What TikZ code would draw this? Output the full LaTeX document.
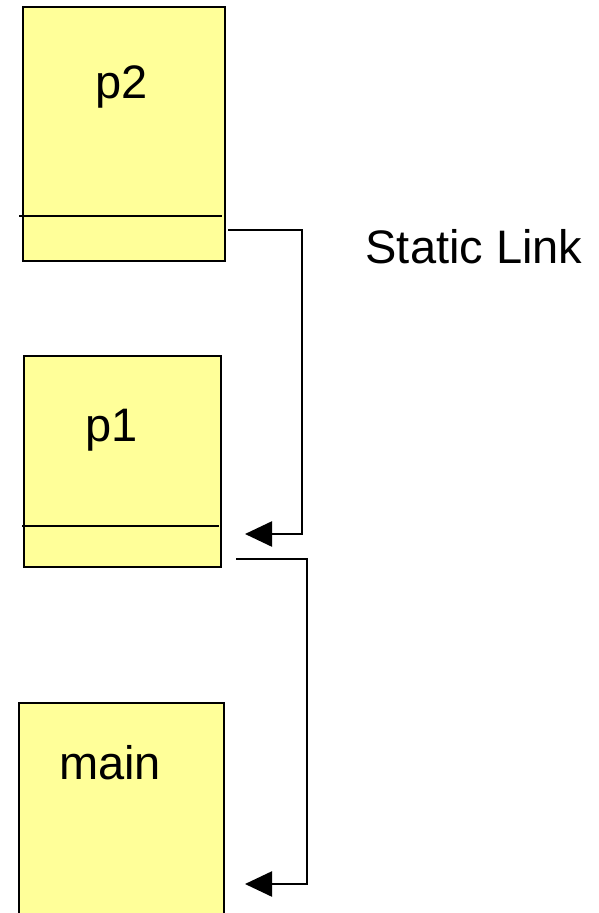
\documentclass[tikz,border=0pt]{standalone}
\usepackage{fontspec}
\setmainfont{Liberation Sans}
\usetikzlibrary{arrows.meta,positioning}

\definecolor{framefill}{HTML}{FFFF99}

\begin{document}
\begin{tikzpicture}[x=1pt,y=-1pt,>={Triangle[length=27pt,width=25pt]},
  frame/.style={draw=black,line width=2.6pt,fill=framefill,
    inner sep=0pt,outer sep=0pt},
  divider/.style={line width=1.6pt},
  link/.style={->,line width=2.4pt},
  lbl/.style={font=\fontsize{47}{56}\selectfont,inner sep=0pt}]
  \useasboundingbox (0,0) rectangle (598,913);
  \clip (0,0) rectangle (598,913);
  % frames on the stack
  \node[frame,minimum width=202pt,minimum height=254pt] (P2)   at (124,134)   {};
  \node[frame,minimum width=197pt,minimum height=211pt] (P1)   at (122.5,461.5) {};
  \node[frame,minimum width=205pt,minimum height=230pt] (Main) at (121.5,818) {};
  \node[lbl] (P2t)   at (122,87)  {p2};
  \node[lbl] (P1t)   at (112,430) {p1};
  \node[lbl] (Maint) at (110,763) {main};
  \node[lbl] (SL)    at (474,247) {Static Link};
  % static link slots
  \coordinate (P2a) at (19,216);  \coordinate (P2b) at (222,216);
  \coordinate (P1a) at (22,526);  \coordinate (P1b) at (219,526);
  \draw[divider] (P2a) -- (P2b);
  \draw[divider] (P1a) -- (P1b);
  \coordinate (L1s) at (228,230); \coordinate (L1c) at (302,400); \coordinate (L1e) at (245,534);
  \coordinate (L2s) at (236,559); \coordinate (L2c) at (307,700); \coordinate (L2e) at (245,884);
  \draw[link] (L1s) -| (L1c) |- (L1e);
  \draw[link] (L2s) -| (L2c) |- (L2e);
\end{tikzpicture}
\end{document}
